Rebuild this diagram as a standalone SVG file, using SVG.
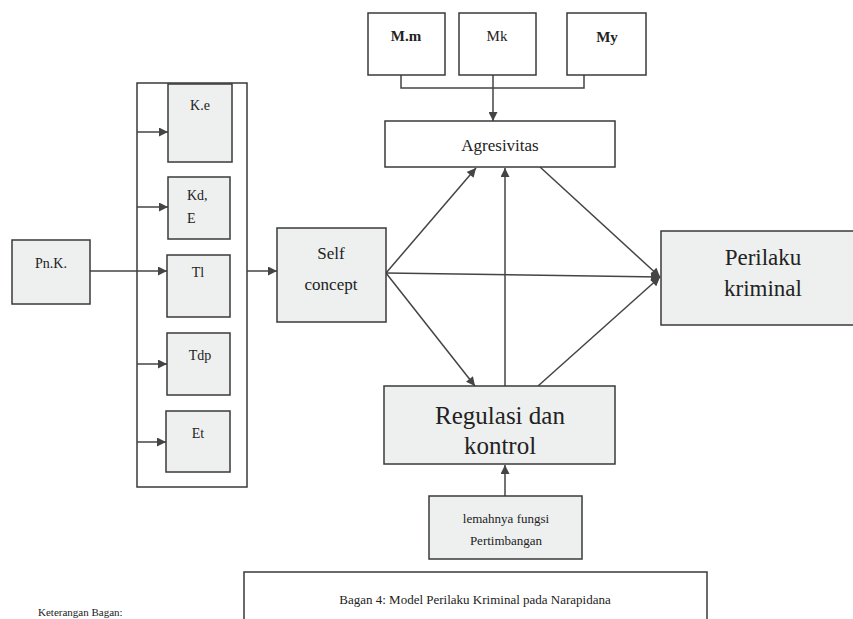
<svg xmlns="http://www.w3.org/2000/svg" width="853" height="619" viewBox="0 0 853 619">
<style>
  .box{fill:#eef0f0;stroke:#3a3a3a;stroke-width:1.5}
  .wbox{fill:#ffffff;stroke:#3a3a3a;stroke-width:1.5}
  .t{font-family:"Liberation Serif","Times New Roman",serif;fill:#222;text-anchor:middle}
  .s{text-anchor:start}
  .ln{fill:none;stroke:#444;stroke-width:1.5}
</style>
<defs>
  <marker id="ah" viewBox="0 0 10 10" refX="10" refY="5" markerWidth="10" markerHeight="9" markerUnits="userSpaceOnUse" orient="auto">
    <path d="M0,0 L10,5 L0,10 z" fill="#444"/>
  </marker>
</defs>
<rect width="853" height="619" fill="#ffffff"/>

<g id="container"><rect class="wbox" x="137" y="83" width="110" height="404"/></g>

<g id="connectors">
  <line class="ln" x1="90" y1="271" x2="167" y2="271" marker-end="url(#ah)"/>
  <line class="ln" x1="137" y1="132" x2="168" y2="132" marker-end="url(#ah)"/>
  <line class="ln" x1="137" y1="207" x2="168" y2="207" marker-end="url(#ah)"/>
  <line class="ln" x1="137" y1="364" x2="167" y2="364" marker-end="url(#ah)"/>
  <line class="ln" x1="137" y1="442" x2="166" y2="442" marker-end="url(#ah)"/>
  <line class="ln" x1="247" y1="271" x2="277" y2="271" marker-end="url(#ah)"/>
  <line class="ln" x1="386" y1="273" x2="476" y2="168" marker-end="url(#ah)"/>
  <line class="ln" x1="386" y1="273" x2="660" y2="277" marker-end="url(#ah)"/>
  <line class="ln" x1="386" y1="273" x2="475" y2="386" marker-end="url(#ah)"/>
  <line class="ln" x1="505" y1="386" x2="505" y2="168" marker-end="url(#ah)"/>
  <line class="ln" x1="540" y1="167" x2="660" y2="277" marker-end="url(#ah)"/>
  <line class="ln" x1="538" y1="386" x2="660" y2="277" marker-end="url(#ah)"/>
  <polyline class="ln" points="401,75 401,88 584,88 584,75"/>
  <line class="ln" x1="493" y1="75" x2="493" y2="121" marker-end="url(#ah)"/>
  <line class="ln" x1="505" y1="496" x2="505" y2="465" marker-end="url(#ah)"/>
</g>

<g id="pnk"><rect class="box" x="12" y="240" width="78" height="64"/><text class="t" x="51" y="268" font-size="14">Pn.K.</text></g>
<g id="ke"><rect class="box" x="168" y="84" width="64" height="78"/><text class="t" x="200" y="110" font-size="14">K.e</text></g>
<g id="kde"><rect class="box" x="168" y="177" width="62" height="62"/><text class="t s" x="187" y="200" font-size="14">Kd,</text><text class="t s" x="187" y="223" font-size="14">E</text></g>
<g id="tl"><rect class="box" x="167" y="255" width="63" height="62"/><text class="t" x="198" y="277" font-size="14">Tl</text></g>
<g id="tdp"><rect class="box" x="167" y="333" width="63" height="62"/><text class="t" x="200" y="360" font-size="14">Tdp</text></g>
<g id="et"><rect class="box" x="166" y="411" width="64" height="61"/><text class="t" x="198" y="438" font-size="14">Et</text></g>

<g id="mm"><rect class="wbox" x="368" y="13" width="77" height="62"/><text class="t" x="406" y="41" font-size="15" font-weight="bold">M.m</text></g>
<g id="mk"><rect class="wbox" x="459" y="13" width="77" height="62"/><text class="t" x="497" y="41" font-size="15">Mk</text></g>
<g id="my"><rect class="wbox" x="567" y="13" width="79" height="62"/><text class="t" x="607" y="42" font-size="15" font-weight="bold">My</text></g>

<g id="agresivitas"><rect class="wbox" x="385" y="121" width="230" height="46"/><text class="t" x="500" y="151" font-size="17">Agresivitas</text></g>

<g id="self"><rect class="box" x="277" y="228" width="109" height="94"/><text class="t" x="331" y="259" font-size="17">Self</text><text class="t" x="331" y="290" font-size="17">concept</text></g>

<g id="perilaku"><rect class="box" x="661" y="231" width="200" height="94"/><text class="t" x="763" y="265" font-size="23">Perilaku</text><text class="t" x="763" y="296" font-size="23">kriminal</text></g>

<g id="regulasi"><rect class="box" x="384" y="386" width="231" height="78"/><text class="t" x="500" y="424" font-size="25">Regulasi dan</text><text class="t" x="500" y="454" font-size="25">kontrol</text></g>

<g id="lemahnya"><rect class="box" x="429" y="496" width="153" height="63"/><text class="t" x="506" y="523" font-size="13">lemahnya  fungsi</text><text class="t" x="506" y="545" font-size="13">Pertimbangan</text></g>

<g id="caption"><rect class="wbox" x="244" y="572" width="463" height="52"/><text class="t" x="475" y="604" font-size="13">Bagan 4:  Model Perilaku Kriminal pada Narapidana</text></g>

<text class="t s" x="38" y="616" font-size="11">Keterangan Bagan:</text>
</svg>
